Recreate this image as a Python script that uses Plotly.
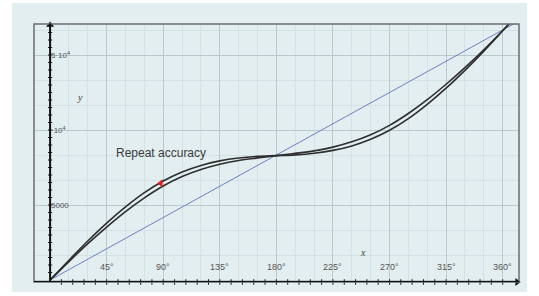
import plotly.graph_objects as go

# ---- data ----
theta = [0, 15, 30, 45, 60, 75, 90, 105, 120, 135, 150, 165, 180,
         195, 210, 225, 240, 255, 270, 285, 300, 315, 330, 345, 360, 367]
curve_a = [0, 1320, 2600, 3790, 4870, 5820, 6600, 7200, 7640, 7940, 8130, 8240, 8290,
           8340, 8450, 8640, 8940, 9380, 9980, 10760, 11710, 12790, 13980, 15260, 16620, 17260]
curve_b = [0, 1230, 2420, 3530, 4560, 5480, 6270, 6900, 7370, 7720, 7970, 8140, 8290,
           8440, 8610, 8860, 9210, 9680, 10310, 11100, 12020, 13050, 14160, 15350, 16620, 17230]
line_x = [0, 373]
line_y = [0, 17270]

x_tick_vals = [45, 90, 135, 180, 225, 270, 315, 360]
x_tick_text = ["45°", "90°", "135°", "180°", "225°", "270°", "315°", "360°"]
y_tick_vals = [5000, 10000, 15000]
y_tick_text = ["5000", "·10<sup>4</sup>", "5·10<sup>4</sup>"]

marker_x = [88]
marker_y = [6450]

XR = [-12.8, 373]
YR = [-133, 17067]

bg = "#e3eef0"
major = "#b9cacd"
minor = "#d4e2e5"

fig = go.Figure()

fig.add_trace(go.Scatter(x=line_x, y=line_y, mode="lines",
                         line=dict(color="#6f7fc4", width=1), hoverinfo="skip"))
fig.add_trace(go.Scatter(x=theta, y=curve_a, mode="lines", line_shape="spline",
                         line=dict(color="#2e2e2e", width=1.6), hoverinfo="skip"))
fig.add_trace(go.Scatter(x=theta, y=curve_b, mode="lines", line_shape="spline",
                         line=dict(color="#2e2e2e", width=1.6), hoverinfo="skip"))
fig.add_trace(go.Scatter(x=marker_x, y=marker_y, mode="markers",
                         marker=dict(symbol="triangle-left", size=7, color="#e02020"),
                         hoverinfo="skip"))

# axis tick marks (crossing the axes)
xt = [i * 9 for i in range(1, 41)]
fig.add_trace(go.Scatter(x=xt, y=[YR[0]] * len(xt), mode="markers",
                         marker=dict(symbol="line-ns", size=4, line=dict(color="#222", width=1)),
                         hoverinfo="skip", cliponaxis=False))
yt = [i * 500 for i in range(1, 35)]
fig.add_trace(go.Scatter(x=[0] * len(yt), y=yt, mode="markers",
                         marker=dict(symbol="line-ew", size=3, line=dict(color="#222", width=1)),
                         hoverinfo="skip", cliponaxis=False))
# arrow heads
fig.add_trace(go.Scatter(x=[0], y=[YR[1] - 60], mode="markers",
                         marker=dict(symbol="triangle-up", size=7, color="#111"),
                         hoverinfo="skip", cliponaxis=False))
fig.add_trace(go.Scatter(x=[XR[1] - 1.5], y=[YR[0]], mode="markers",
                         marker=dict(symbol="triangle-right", size=7, color="#111"),
                         hoverinfo="skip", cliponaxis=False))

shapes = [
    dict(type="rect", xref="paper", yref="paper", x0=-22/485, x1=(527-34)/485,
         y0=-(292-282)/258, y1=(282-3)/258, fillcolor=bg, line=dict(width=0), layer="below"),
    dict(type="rect", xref="paper", yref="paper", x0=0, x1=1, y0=0, y1=1,
         line=dict(color="#6e6e6e", width=1.5), fillcolor="rgba(0,0,0,0)"),
    dict(type="line", xref="x", yref="y", x0=0, x1=0, y0=YR[0], y1=YR[1],
         line=dict(color="#111", width=2)),
    dict(type="line", xref="paper", yref="y", x0=0, x1=1, y0=YR[0], y1=YR[0],
         line=dict(color="#111", width=2.2)),
]

ann = []
for v, t in zip(x_tick_vals, x_tick_text):
    ann.append(dict(x=v, y=870, text=t, showarrow=False, xanchor="center", yanchor="middle",
                    font=dict(size=9, color="#555", family="Liberation Sans")))
for v, t in zip(y_tick_vals, y_tick_text):
    ann.append(dict(x=0.8, y=v, text=t, showarrow=False, xanchor="left", yanchor="middle",
                    xshift=-2, font=dict(size=8, color="#555", family="Liberation Sans")))
ann.append(dict(x=88, y=8470, text="Repeat accuracy", showarrow=False, xanchor="center",
                yanchor="middle", font=dict(size=12, color="#3a3a3a", family="Liberation Sans")))
ann.append(dict(x=24, y=12200, text="<i>y</i>", showarrow=False,
                font=dict(size=10, color="#444", family="Liberation Serif")))
ann.append(dict(x=249, y=1867, text="<i>x</i>", showarrow=False,
                font=dict(size=10, color="#444", family="Liberation Serif")))

fig.update_layout(
    width=539, height=296,
    margin=dict(l=34, r=20, t=24, b=14),
    paper_bgcolor="white", plot_bgcolor=bg,
    showlegend=False,
    shapes=shapes, annotations=ann,
    xaxis=dict(range=XR, showticklabels=False, ticks="", zeroline=False, showline=False,
               tick0=0, dtick=45, showgrid=True, gridcolor=major, gridwidth=1,
               minor=dict(tick0=0, dtick=15, showgrid=True, gridcolor=minor, gridwidth=1)),
    yaxis=dict(range=YR, showticklabels=False, ticks="", zeroline=False, showline=False,
               tick0=0, dtick=5000, showgrid=True, gridcolor=major, gridwidth=1,
               minor=dict(tick0=0, dtick=5000/3, showgrid=True, gridcolor=minor, gridwidth=1)),
)

fig.write_html("out.html", config={"displayModeBar": False},
               post_script="document.body.style.margin='0';")
